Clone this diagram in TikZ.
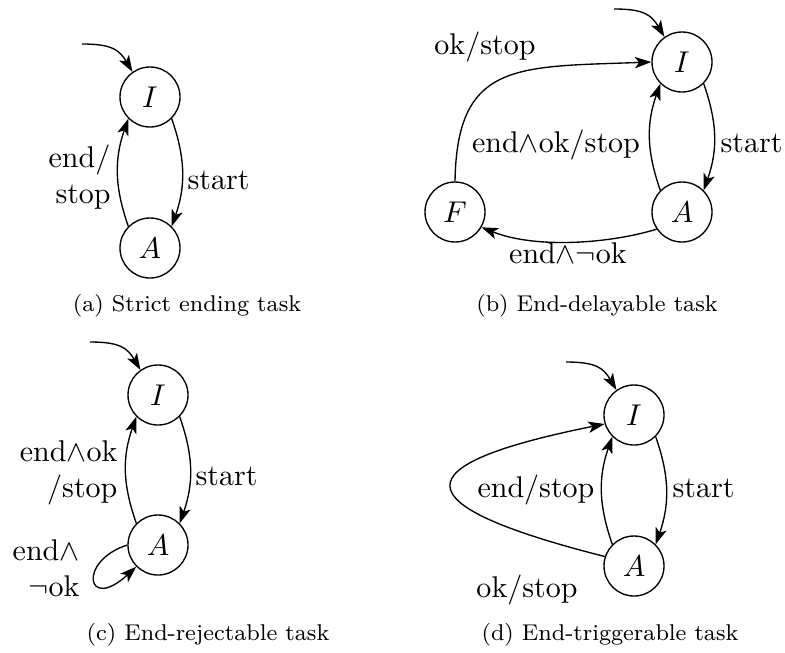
\documentclass[tikz,border=0pt]{standalone}
\usetikzlibrary{arrows.meta}
\begin{document}
\begin{tikzpicture}[x=0.3333pt,y=-0.3333pt,
  state/.style={draw,circle,minimum size=20pt,inner sep=0pt,line width=0.45pt},
  tr/.style={-{Stealth[length=5.5pt,width=3.8pt,inset=1.4pt]},line width=0.45pt},
  lbl/.style={inner sep=0pt,font=\fontsize{10}{12}\selectfont},
  captxt/.style={inner sep=0pt,font=\fontsize{7.6}{9.2}\selectfont,anchor=base}]
\useasboundingbox (0,0) rectangle (785,652);

% ---------- (a)
\node[state] (Ia) at (150,97) {$I$};
\node[state] (Aa) at (150,248) {$A$};
\coordinate (ia) at (82,44);
\draw[tr] (ia) .. controls +(30,0) and +(-13,-22) .. (Ia.125);
\draw[tr] (Ia.-45) .. controls +(14,40) and +(14,-40) .. (Aa.45);
\draw[tr] (Aa.135) .. controls +(-14,-40) and +(-14,40) .. (Ia.-135);
\node[lbl,anchor=base west] (sa) at (187,189) {start};
\node[lbl,anchor=west,align=left] (ea) at (48,177) {end/\\\hspace*{2.3pt}stop};
\node[captxt] (capa) at (187,311) {(a) Strict ending task};

% ---------- (b)
\node[state] (Ib) at (682,62) {$I$};
\node[state] (Ab) at (682,212) {$A$};
\node[state] (Fb) at (455,212) {$F$};
\coordinate (ib) at (614,9);
\draw[tr] (ib) .. controls +(30,0) and +(-13,-22) .. (Ib.125);
\draw[tr] (Ib.-45) .. controls +(14,40) and +(14,-40) .. (Ab.45);
\draw[tr] (Ab.135) .. controls +(-14,-40) and +(-14,40) .. (Ib.-135);
\draw[tr] (Fb.90) .. controls +(2,-120) and +(-135,5) .. (Ib.180);
\draw[tr] (Ab.214) .. controls +(-45,14) and +(55,22) .. (Fb.-30);
\node[lbl,anchor=base] (okb) at (485,54) {ok/stop};
\node[lbl,anchor=base] (eb) at (556,152) {end$\wedge$ok/stop};
\node[lbl,anchor=base west] (sb) at (720,152) {start};
\node[lbl,anchor=base] (nb) at (568,263) {end$\wedge\neg$ok};
\node[captxt] (capb) at (597,311) {(b) End-delayable task};

% ---------- (c)
\node[state] (Ic) at (158,395) {$I$};
\node[state] (Ac) at (158,545) {$A$};
\coordinate (ic) at (90,342);
\draw[tr] (ic) .. controls +(30,0) and +(-13,-22) .. (Ic.125);
\draw[tr] (Ic.-45) .. controls +(14,40) and +(14,-40) .. (Ac.45);
\draw[tr] (Ac.135) .. controls +(-14,-40) and +(-14,40) .. (Ic.-135);
\draw[tr] (Ac.180) .. controls +(-50,16) and +(-50,46) .. (Ac.225);
\node[lbl,anchor=east,align=right] (ec) at (118,473) {end$\wedge$ok\\/stop};
\node[lbl,anchor=base west] (sc) at (195,485) {start};
\node[lbl,anchor=east,align=right] (nc) at (80,568) {end$\wedge$\\$\neg$ok};
\node[captxt] (capc) at (208,640) {(c) End-rejectable task};

% ---------- (d)
\node[state] (Id) at (634,415) {$I$};
\node[state] (Ad) at (634,566) {$A$};
\coordinate (id) at (566,362);
\draw[tr] (id) .. controls +(30,0) and +(-13,-22) .. (Id.125);
\draw[tr] (Id.-45) .. controls +(14,40) and +(14,-40) .. (Ad.45);
\draw[tr] (Ad.135) .. controls +(-14,-40) and +(-14,40) .. (Id.-135);
\draw[tr] (Ad.162) .. controls +(-205,-52) and +(-204,41) .. (Id.197);
\node[lbl,anchor=base east] (ed) at (595,497) {end/stop};
\node[lbl,anchor=base west] (sd) at (672,497) {start};
\node[lbl,anchor=base] (okd) at (527,597) {ok/stop};
\node[captxt] (capd) at (610,640) {(d) End-triggerable task};
\end{tikzpicture}
\end{document}
